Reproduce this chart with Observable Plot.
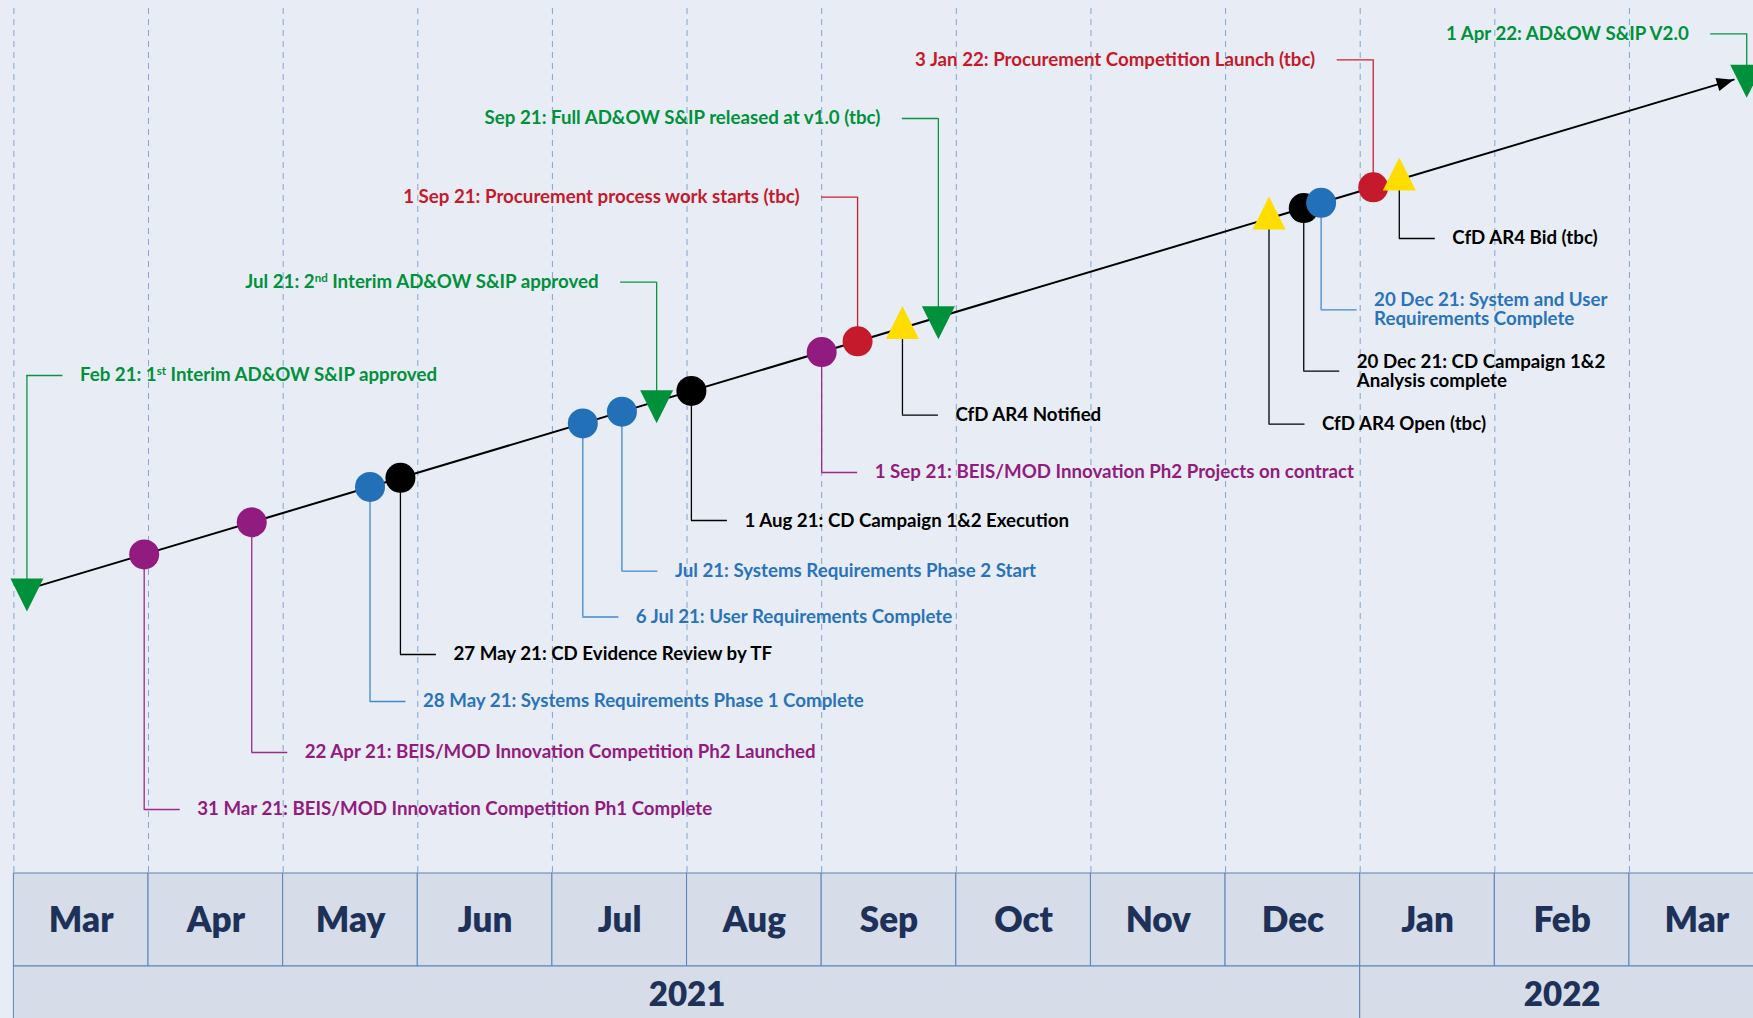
<!DOCTYPE html>
<html><head><meta charset="utf-8">
<script src="https://cdn.jsdelivr.net/npm/d3@7"></script>
<script src="https://cdn.jsdelivr.net/npm/@observablehq/plot@0.6"></script>
<style>
html,body{margin:0;padding:0;background:#e8edf5;}
#chart{width:1753px;height:1018px;overflow:hidden;}
</style></head><body><div id="chart"></div>
<script>
// ---- data ----
const monthNames = ["Mar","Apr","May","Jun","Jul","Aug","Sep","Oct","Nov","Dec","Jan","Feb","Mar"];
const yearNames = ["2021","2022"];
const yearStartMonth = [0, 10];
const yearEndMonth = [10, 13];

const eventDates = ["2021-03-04","2021-03-31","2021-04-24","2021-05-21","2021-05-28","2021-07-08","2021-07-17","2021-07-25","2021-08-02","2021-09-01","2021-09-09","2021-09-19","2021-09-27","2021-12-11","2021-12-19","2021-12-23","2022-01-04","2022-01-10","2022-03-28"];
const eventCategories = ["plan","innovation","innovation","requirements","campaign","requirements","requirements","plan","campaign","innovation","procurement","cfd","plan","cfd","campaign","requirements","procurement","cfd","plan"];
const eventLabels = [
  "Feb 21: 1st Interim AD&OW S&IP approved",
  "31 Mar 21: BEIS/MOD Innovation Competition Ph1 Complete",
  "22 Apr 21: BEIS/MOD Innovation Competition Ph2 Launched",
  "28 May 21: Systems Requirements Phase 1 Complete",
  "27 May 21: CD Evidence Review by TF",
  "6 Jul 21: User Requirements Complete",
  "Jul 21: Systems Requirements Phase 2 Start",
  "Jul 21: 2nd Interim AD&OW S&IP approved",
  "1 Aug 21: CD Campaign 1&2 Execution",
  "1 Sep 21: BEIS/MOD Innovation Ph2 Projects on contract",
  "1 Sep 21: Procurement process work starts (tbc)",
  "CfD AR4 Notified",
  "Sep 21: Full AD&OW S&IP released at v1.0 (tbc)",
  "CfD AR4 Open (tbc)",
  "20 Dec 21: CD Campaign 1&2\nAnalysis complete",
  "20 Dec 21: System and User\nRequirements Complete",
  "3 Jan 22: Procurement Competition Launch (tbc)",
  "CfD AR4 Bid (tbc)",
  "1 Apr 22: AD&OW S&IP V2.0"
];
// label level on the same diagonal (month) scale as the timeline
const labelLevels = [5.417,-5.377,-3.959,-2.691,-1.522,-0.589,0.550,7.737,1.810,3.004,9.851,4.429,11.808,4.205,5.523,7.050,13.268,8.824,13.914];
const labelSides = ["right","right","right","right","right","right","right","left","right","right","left","right","left","right","right","right","left","right","left"];
const timelineEndDate = "2022-03-25";

// ---- styles ----
const markerFill = {plan:"#00913a", innovation:"#921b7f", requirements:"#2271b8", campaign:"#000000", procurement:"#c41a2b", cfd:"#ffdd00"};
const textFill   = {plan:"#00913a", innovation:"#921b7f", requirements:"#2a73ba", campaign:"#000000", procurement:"#c41a2b", cfd:"#000000"};
const leaderStroke = {plan:"#0b9340", innovation:"#9b2a89", requirements:"#3f88cb", campaign:"#000000", procurement:"#c8202f", cfd:"#000000"};

function monthIndex(s){
  const [Y,M,D] = s.split("-").map(Number);
  const dim = new Date(Date.UTC(Y, M, 0)).getUTCDate();
  return (Y-2021)*12 + (M-3) + (D-1)/dim;
}

const events = eventDates.map((d,i)=>({
  t: monthIndex(d), cat: eventCategories[i], label: eventLabels[i],
  level: labelLevels[i], side: labelSides[i]
}));

const X0 = 13.4, PXM = 134.63;     // px per month
const Y0 = 592.8, PYM = 40.21;     // diagonal rise per month
const leadPx = 36;
const lead = leadPx / PXM;
const angle = Math.atan2(PXM, PYM) * 180 / Math.PI;

const triangle = {draw(ctx, size){ const r = Math.sqrt(size/Math.PI);
  ctx.moveTo(0,-4*r/3); ctx.lineTo(r,2*r/3); ctx.lineTo(-r,2*r/3); ctx.closePath(); }};
const arrowHead = {draw(ctx, size){ const r = Math.sqrt(size/Math.PI);
  ctx.moveTo(0,0); ctx.lineTo(0.8*r,2*r); ctx.lineTo(-0.8*r,2*r); ctx.closePath(); }};

const months = d3.range(monthNames.length);
const years = d3.range(yearNames.length);
const lineStart = events[0].t, lineEnd = monthIndex(timelineEndDate);
const FONT = "Lato, 'Open Sans', sans-serif";
const LABEL_SIZE = 18.7;

const chart = Plot.plot({
  width: 1753, height: 1018, margin: 0,
  style: {background: "#e8edf5", fontFamily: FONT, overflow: "hidden"},
  x: {type: "linear", domain: [0, 13], range: [X0, X0 + 13*PXM], axis: null},
  y: {type: "linear", domain: [0, 13], range: [Y0, Y0 - 13*PYM], axis: null},
  marks: [
    Plot.ruleX(months, {x: d => d, stroke: "#7fa6d2", strokeWidth: 1, strokeDasharray: "6,5", insetTop: 8, insetBottom: 145}),
    Plot.rect(months, {x1: d => d, x2: d => d + 1, fill: "#d6dde9", stroke: "#5a83b6", strokeWidth: 1, insetTop: 873, insetBottom: 52}),
    Plot.rect(years, {x1: i => yearStartMonth[i], x2: i => yearEndMonth[i], fill: "#d6dde9", stroke: "#5a83b6", strokeWidth: 1, insetTop: 966, insetBottom: -20}),
    Plot.text(months, {x: d => d + 0.5, text: d => monthNames[d], frameAnchor: "top", dy: 920, fontSize: 35, fontWeight: 800, fill: "#1e3158", lineAnchor: "middle"}),
    Plot.text(years, {x: i => (yearStartMonth[i] + yearEndMonth[i]) / 2, text: i => yearNames[i], frameAnchor: "top", dy: 995, fontSize: 33, fontWeight: 800, fill: "#1e3158", lineAnchor: "middle"}),
    // timeline
    Plot.line([lineStart, lineEnd], {x: d => d, y: d => d, stroke: "#000", strokeWidth: 2}),
    Plot.dot([lineEnd], {x: d => d, y: d => d, symbol: arrowHead, r: 8.5, fill: "#000", stroke: null, rotate: angle}),
    // leaders
    Plot.ruleX(events, {x: "t", y1: "t", y2: "level", stroke: d => leaderStroke[d.cat], strokeWidth: 1.3}),
    Plot.ruleY(events, {y: "level", x1: "t", x2: d => d.t + (d.side === "right" ? lead : -lead), stroke: d => leaderStroke[d.cat], strokeWidth: 1.3}),
    // markers
    Plot.dot(events.filter(d => d.cat !== "plan" && d.cat !== "cfd"), {x: "t", y: "t", r: 15, fill: d => markerFill[d.cat], stroke: null}),
    Plot.dot(events.filter(d => d.cat === "cfd"), {x: "t", y: "t", r: 16.5, symbol: triangle, fill: d => markerFill[d.cat], stroke: null}),
    Plot.dot(events.filter(d => d.cat === "plan"), {x: "t", y: "t", r: 16.5, symbol: triangle, fill: d => markerFill[d.cat], stroke: null, rotate: 180}),
    // labels
    Plot.text(events, {x: "t", y: "level", text: "label", fill: d => textFill[d.cat],
      fontSize: LABEL_SIZE, fontWeight: 700, lineHeight: 1.0, lineAnchor: "middle",
      textAnchor: "start", filter: d => d.side === "right", dx: 53}),
    Plot.text(events, {x: "t", y: "level", text: "label", fill: d => textFill[d.cat],
      fontSize: LABEL_SIZE, fontWeight: 700, lineHeight: 1.0, lineAnchor: "middle",
      textAnchor: "end", filter: d => d.side === "left", dx: -58})
  ]
});
document.getElementById("chart").appendChild(chart);

// superscript ordinals (1st, 2nd)
chart.querySelectorAll("text").forEach(t => {
  if (t.children.length) return;
  const s = t.textContent;
  const m = s.match(/(\d)(st|nd|rd|th)\b/);
  if (!m) return;
  const i = m.index + 1;
  const before = s.slice(0, i), sup = m[2], after = s.slice(i + sup.length);
  const NS = "http://www.w3.org/2000/svg";
  t.textContent = "";
  const a = document.createElementNS(NS, "tspan"); a.textContent = before;
  const b = document.createElementNS(NS, "tspan"); b.textContent = sup;
  b.setAttribute("font-size", "11.5"); b.setAttribute("dy", "-6.5");
  const c = document.createElementNS(NS, "tspan"); c.textContent = after; c.setAttribute("dy", "6.5");
  t.append(a, b, c);
});
</script>
</body></html>
